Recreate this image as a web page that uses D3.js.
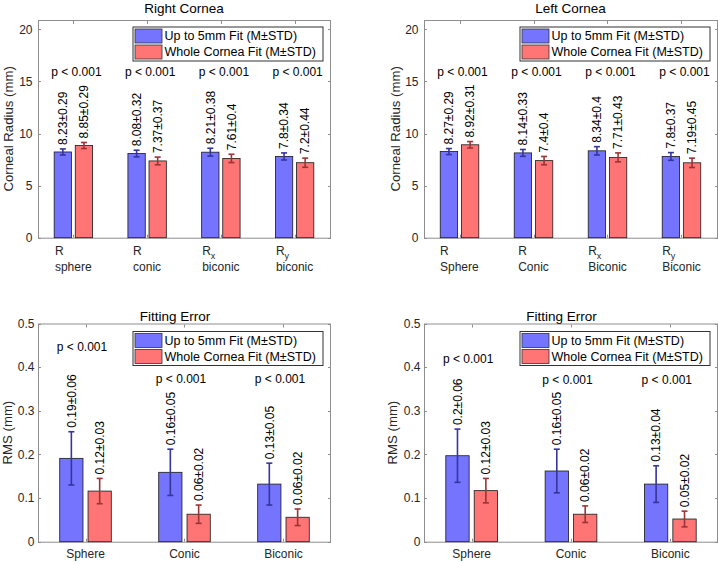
<!DOCTYPE html>
<html><head><meta charset="utf-8">
<script src="https://cdn.jsdelivr.net/npm/d3@7"></script>
<style>
body{margin:0;background:#fff;}
svg{display:block;font-family:"Liberation Sans",Arial,Helvetica,sans-serif;}
</style></head>
<body>
<svg id="c" width="718" height="562"></svg>
<script>
// ---------------- data ----------------
const radiusSymbol = ["R", "R", "R", "R"];
const radiusSub = ["", "", "x", "y"];
const rightModels = ["sphere", "conic", "biconic", "biconic"];
const leftModels = ["Sphere", "Conic", "Biconic", "Biconic"];
const errCats = ["Sphere", "Conic", "Biconic"];
const seriesNames = ["Up to 5mm Fit (M\u00B1STD)", "Whole Cornea Fit  (M\u00B1STD)"];

const rightFit5Mean = [8.23, 8.08, 8.21, 7.8];
const rightFit5Std = [0.29, 0.32, 0.38, 0.34];
const rightWholeMean = [8.85, 7.37, 7.61, 7.2];
const rightWholeStd = [0.29, 0.37, 0.4, 0.44];
const rightFit5Label = ["8.23\u00B10.29", "8.08\u00B10.32", "8.21\u00B10.38", "7.8\u00B10.34"];
const rightWholeLabel = ["8.85\u00B10.29", "7.37\u00B10.37", "7.61\u00B10.4", "7.2\u00B10.44"];

const leftFit5Mean = [8.27, 8.14, 8.34, 7.8];
const leftFit5Std = [0.29, 0.33, 0.4, 0.37];
const leftWholeMean = [8.92, 7.4, 7.71, 7.19];
const leftWholeStd = [0.31, 0.4, 0.43, 0.45];
const leftFit5Label = ["8.27\u00B10.29", "8.14\u00B10.33", "8.34\u00B10.4", "7.8\u00B10.37"];
const leftWholeLabel = ["8.92\u00B10.31", "7.4\u00B10.4", "7.71\u00B10.43", "7.19\u00B10.45"];

const rmsRightFit5Mean = [0.191, 0.159, 0.132];
const rmsRightFit5Std = [0.061, 0.053, 0.048];
const rmsRightWholeMean = [0.116, 0.063, 0.056];
const rmsRightWholeStd = [0.029, 0.021, 0.019];
const rmsRightFit5Label = ["0.19\u00B10.06", "0.16\u00B10.05", "0.13\u00B10.05"];
const rmsRightWholeLabel = ["0.12\u00B10.03", "0.06\u00B10.02", "0.06\u00B10.02"];

const rmsLeftFit5Mean = [0.197, 0.162, 0.132];
const rmsLeftFit5Std = [0.061, 0.05, 0.042];
const rmsLeftWholeMean = [0.117, 0.063, 0.052];
const rmsLeftWholeStd = [0.028, 0.019, 0.018];
const rmsLeftFit5Label = ["0.2\u00B10.06", "0.16\u00B10.05", "0.13\u00B10.04"];
const rmsLeftWholeLabel = ["0.12\u00B10.03", "0.06\u00B10.02", "0.05\u00B10.02"];

const pText = ["p < 0.001", "p < 0.001", "p < 0.001", "p < 0.001"];
const pYRadius = [15.9, 15.9, 15.9, 15.9];
const pYRmsRight = [0.447, 0.373, 0.373];
const pYRmsLeft = [0.419, 0.371, 0.371];

const radiusTicks = [0, 5, 10, 15, 20];
const rmsTicks = [0, 0.1, 0.2, 0.3, 0.4, 0.5];

// ---------------- style ----------------
const FONT = "12px";
const BLUE = "#7474ff", RED = "#ff7474";
const BLUE_ERR = "#35359a", RED_ERR = "#9a3535";
const AXIS = "#8e8e8e", TXT = "#262626";

const svg = d3.select("#c");

function panel(cfg) {
  const g = svg.append("g");
  const n = cfg.meanA.length;
  const x = d3.scaleLinear().domain(cfg.xDomain).range([cfg.left, cfg.right]);
  const y = d3.scaleLinear().domain(cfg.yDomain).range([cfg.bottom, cfg.top]);
  const bw = 0.235 * (x(1) - x(0));
  const off = 0.143;

  // frame
  g.append("rect").attr("x", cfg.left + 0.5).attr("y", cfg.top + 0.5)
    .attr("width", cfg.right - cfg.left).attr("height", cfg.bottom - cfg.top)
    .attr("fill", "none").attr("stroke", AXIS).attr("stroke-width", 1);

  // y ticks (inside, both sides) + labels
  const yt = g.append("g");
  cfg.yTicks.forEach(t => {
    const yy = Math.round(y(t)) + 0.5;
    yt.append("line").attr("x1", cfg.left).attr("x2", cfg.left + 3).attr("y1", yy).attr("y2", yy).attr("stroke", AXIS);
    yt.append("line").attr("x1", cfg.right - 2).attr("x2", cfg.right + 1).attr("y1", yy).attr("y2", yy).attr("stroke", AXIS);
    yt.append("text").attr("x", cfg.left - cfg.yLabelGap).attr("y", y(t)).attr("dy", "0.35em")
      .attr("text-anchor", "end").attr("font-size", FONT).attr("fill", TXT).text(cfg.yFmt(t));
  });
  // x ticks
  d3.range(1, n + 1).forEach(i => {
    const xx = Math.round(x(i)) + 0.5;
    g.append("line").attr("x1", xx).attr("x2", xx).attr("y1", cfg.bottom).attr("y2", cfg.bottom - 3).attr("stroke", AXIS);
    g.append("line").attr("x1", xx).attr("x2", xx).attr("y1", cfg.top + 1).attr("y2", cfg.top + 4).attr("stroke", AXIS);
  });

  // bars
  const series = [
    {mean: cfg.meanA, std: cfg.stdA, lab: cfg.labA, fill: BLUE, err: BLUE_ERR, o: -off},
    {mean: cfg.meanB, std: cfg.stdB, lab: cfg.labB, fill: RED, err: RED_ERR, o: off}
  ];
  series.forEach(s => {
    const sg = g.append("g");
    sg.selectAll("rect").data(s.mean).join("rect")
      .attr("x", (d, i) => x(i + 1 + s.o) - bw / 2)
      .attr("y", d => y(d))
      .attr("width", bw)
      .attr("height", d => y(0) - y(d))
      .attr("fill", s.fill).attr("stroke", "#1a1a1a").attr("stroke-width", 0.8);
    s.mean.forEach((m, i) => {
      const cx = x(i + 1 + s.o);
      const y1 = y(m + s.std[i]), y2 = y(m - s.std[i]);
      sg.append("line").attr("x1", cx).attr("x2", cx).attr("y1", y1).attr("y2", y2).attr("stroke", s.err).attr("stroke-width", 1.6);
      [y1, y2].forEach(yy => sg.append("line").attr("x1", cx - 3).attr("x2", cx + 3).attr("y1", yy).attr("y2", yy).attr("stroke", s.err).attr("stroke-width", 1.6));
      sg.append("text").attr("transform", `translate(${cx},${y1 - 4}) rotate(-90)`)
        .attr("text-anchor", "start").attr("dy", "0.35em")
        .attr("font-size", FONT).attr("fill", "#000").text(s.lab[i]);
    });
  });

  // p-values
  cfg.pY.forEach((py, i) => {
    g.append("text").attr("x", x(i + 1) + cfg.pDx).attr("y", y(py)).attr("dy", "0.35em")
      .attr("text-anchor", "middle").attr("font-size", FONT).attr("fill", "#000").text(pText[i]);
  });

  // x labels
  cfg.xLabels(g, x);

  // legend
  const lg = g.append("g").attr("transform", `translate(${cfg.legX},${cfg.legY})`);
  lg.append("rect").attr("x", 0.5).attr("y", 0.5).attr("width", 190).attr("height", 34)
    .attr("fill", "#fff").attr("stroke", "#333").attr("stroke-width", 1);
  [BLUE, RED].forEach((c, k) => {
    lg.append("rect").attr("x", 2.5).attr("y", 2.5 + k * 16).attr("width", 27).attr("height", 14)
      .attr("fill", c).attr("stroke", "#333").attr("stroke-width", 0.8);
    lg.append("text").attr("x", 32).attr("y", 9.5 + k * 16).attr("dy", "0.35em")
      .attr("font-size", "12.5px").attr("fill", "#000").text(seriesNames[k]);
  });

  // title
  g.append("text").attr("x", (cfg.left + cfg.right) / 2 + cfg.titleDx).attr("y", cfg.titleY)
    .attr("text-anchor", "middle").attr("font-size", "13.5px").attr("fill", "#000").text(cfg.title);
  // y label
  g.append("text").attr("transform", `translate(${cfg.yTitleX},${(cfg.top + cfg.bottom) / 2}) rotate(-90)`)
    .attr("text-anchor", "middle").attr("font-size", "13.2px").attr("fill", TXT).text(cfg.yTitle);
}

function radiusXLabels(models) {
  return (g, x) => {
    models.forEach((m, i) => {
      const t1 = g.append("text").attr("y", 254.5).attr("font-size", FONT).attr("fill", TXT);
      t1.append("tspan").text(radiusSymbol[i]);
      if (radiusSub[i]) t1.append("tspan").attr("font-size", "9px").attr("dy", 4).text(radiusSub[i]);
      const t2 = g.append("text").attr("y", 270.5).attr("font-size", FONT).attr("fill", TXT).text(m);
      const w = Math.max(t1.node().getBBox().width, t2.node().getBBox().width);
      const lx = x(i + 1) - w / 2;
      t1.attr("x", lx); t2.attr("x", lx);
    });
  };
}
function rmsXLabels(g, x) {
  errCats.forEach((c, i) => {
    g.append("text").attr("x", x(i + 1)).attr("y", 558).attr("text-anchor", "middle")
      .attr("font-size", FONT).attr("fill", TXT).text(c);
  });
}

const topBox = {top: 20, bottom: 237.7, yDomain: [0, 20.9], xDomain: [0.52, 4.48], yTicks: radiusTicks,
  yFmt: d3.format("d"), yLabelGap: 5.5, pY: pYRadius, pDx: 3, titleY: 12.5, titleDx: 0, yTitle: "Corneal Radius (mm)"};
const botBox = {top: 323.5, bottom: 541.7, yDomain: [0, 0.5], xDomain: [0.52, 3.47], yTicks: rmsTicks,
  yFmt: d => d === 0 ? "0" : d3.format(".1f")(d), yLabelGap: 3.5, pDx: -3.5, titleY: 320.5, titleDx: -9, yTitle: "RMS (mm)", xLabels: rmsXLabels};

panel(Object.assign({}, topBox, {left: 38, right: 330, title: "Right Cornea", yTitleX: 13,
  meanA: rightFit5Mean, stdA: rightFit5Std, labA: rightFit5Label,
  meanB: rightWholeMean, stdB: rightWholeStd, labB: rightWholeLabel,
  xLabels: radiusXLabels(rightModels), legX: 132.5, legY: 26.5}));
panel(Object.assign({}, topBox, {left: 424, right: 717, title: "Left Cornea", yTitleX: 400,
  meanA: leftFit5Mean, stdA: leftFit5Std, labA: leftFit5Label,
  meanB: leftWholeMean, stdB: leftWholeStd, labB: leftWholeLabel,
  xLabels: radiusXLabels(leftModels), legX: 519.5, legY: 26.5}));
panel(Object.assign({}, botBox, {left: 38, right: 330, title: "Fitting Error", yTitleX: 11.5,
  meanA: rmsRightFit5Mean, stdA: rmsRightFit5Std, labA: rmsRightFit5Label,
  meanB: rmsRightWholeMean, stdB: rmsRightWholeStd, labB: rmsRightWholeLabel,
  pY: pYRmsRight, legX: 132.5, legY: 331}));
panel(Object.assign({}, botBox, {left: 424, right: 717, title: "Fitting Error", yTitleX: 396.5,
  meanA: rmsLeftFit5Mean, stdA: rmsLeftFit5Std, labA: rmsLeftFit5Label,
  meanB: rmsLeftWholeMean, stdB: rmsLeftWholeStd, labB: rmsLeftWholeLabel,
  pY: pYRmsLeft, legX: 519.5, legY: 331}));
</script>
</body></html>
